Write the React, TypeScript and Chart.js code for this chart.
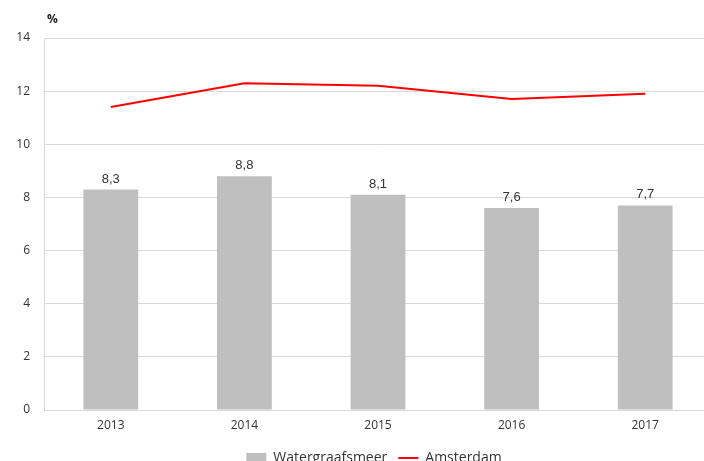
import React, { useEffect, useRef } from "react";
import { Chart, registerables } from "chart.js";

Chart.register(...registerables);

const years = ["2013", "2014", "2015", "2016", "2017"];
const watergraafsmeer = [8.3, 8.8, 8.1, 7.6, 7.7];
const amsterdam = [11.4, 12.3, 12.2, 11.7, 11.9];
const yTicks = [0, 2, 4, 6, 8, 10, 12, 14];

const labelPlugin = {
  id: "extras",
  afterLayout(chart: any) {
    const lg = chart.legend;
    if (lg) {
      lg.left += 18;
      lg.right += 18;
    }
  },
  afterDatasetsDraw(chart: any) {
    const ctx = chart.ctx;
    const meta = chart.getDatasetMeta(1);
    ctx.save();
    ctx.font = "13px 'Liberation Sans', Arial, sans-serif";
    ctx.fillStyle = "#333333";
    ctx.textAlign = "center";
    ctx.textBaseline = "bottom";
    meta.data.forEach((el: any, i: number) => {
      ctx.fillText(watergraafsmeer[i].toFixed(1).replace(".", ","), el.x, el.y - 4);
    });
    ctx.font = "bold 12px 'Open Sans', sans-serif";
    ctx.fillStyle = "#222222";
    ctx.textAlign = "left";
    ctx.textBaseline = "middle";
    ctx.fillText("%", 47, 20);
    ctx.restore();
  },
};

export default function App() {
  const ref = useRef<HTMLCanvasElement>(null);
  useEffect(() => {
    if (!ref.current) return;
    const chart = new Chart(ref.current, {
      type: "bar",
      data: {
        labels: years,
        datasets: [
          {
            type: "line",
            label: "Amsterdam",
            data: amsterdam,
            borderColor: "#ff0000",
            backgroundColor: "#ff0000",
            borderWidth: 2,
            pointRadius: 0,
            pointStyle: "line",
            tension: 0,
            order: 0,
          } as any,
          {
            type: "bar",
            label: "Watergraafsmeer",
            data: watergraafsmeer,
            backgroundColor: "#bfbfbf",
            borderWidth: 0,
            barPercentage: 0.41,
            categoryPercentage: 1,
            pointStyle: "rect",
            order: 1,
          } as any,
        ],
      },
      options: {
        responsive: false,
        animation: false,
        layout: { padding: { top: 38, right: 8, left: 0, bottom: 0 } },
        plugins: {
          legend: {
            position: "bottom",
            reverse: true,
            labels: {
              usePointStyle: true,
              pointStyleWidth: 20,
              boxHeight: 10,
              padding: 11,
              color: "#333333",
              font: { family: "'Open Sans', sans-serif", size: 14 },
            },
          },
          tooltip: { enabled: false },
        },
        scales: {
          x: {
            grid: { display: false, drawTicks: false },
            border: { color: "#d9d9d9" },
            ticks: {
              padding: 8,
              color: "#333333",
              font: { family: "'Open Sans', sans-serif", size: 12 },
            },
            afterFit: (s: any) => {
              s.height = 30;
            },
          },
          y: {
            min: 0,
            max: 14,
            afterBuildTicks: (s: any) => {
              s.ticks = yTicks.map((v) => ({ value: v }));
            },
            grid: { color: "#d9d9d9", drawTicks: false },
            border: { color: "#d9d9d9" },
            ticks: {
              padding: 14,
              color: "#333333",
              font: { family: "'Open Sans', sans-serif", size: 12 },
            },
            afterFit: (s: any) => {
              s.width = 44;
            },
          },
        },
      },
      plugins: [labelPlugin],
    } as any);
    return () => chart.destroy();
  }, []);
  return (
    <div style={{ position: "fixed", left: 0, top: 0, width: 704, height: 461, overflow: "hidden", background: "#fff" }}>
      <canvas ref={ref} width={720} height={475} style={{ display: "block" }} />
    </div>
  );
}
